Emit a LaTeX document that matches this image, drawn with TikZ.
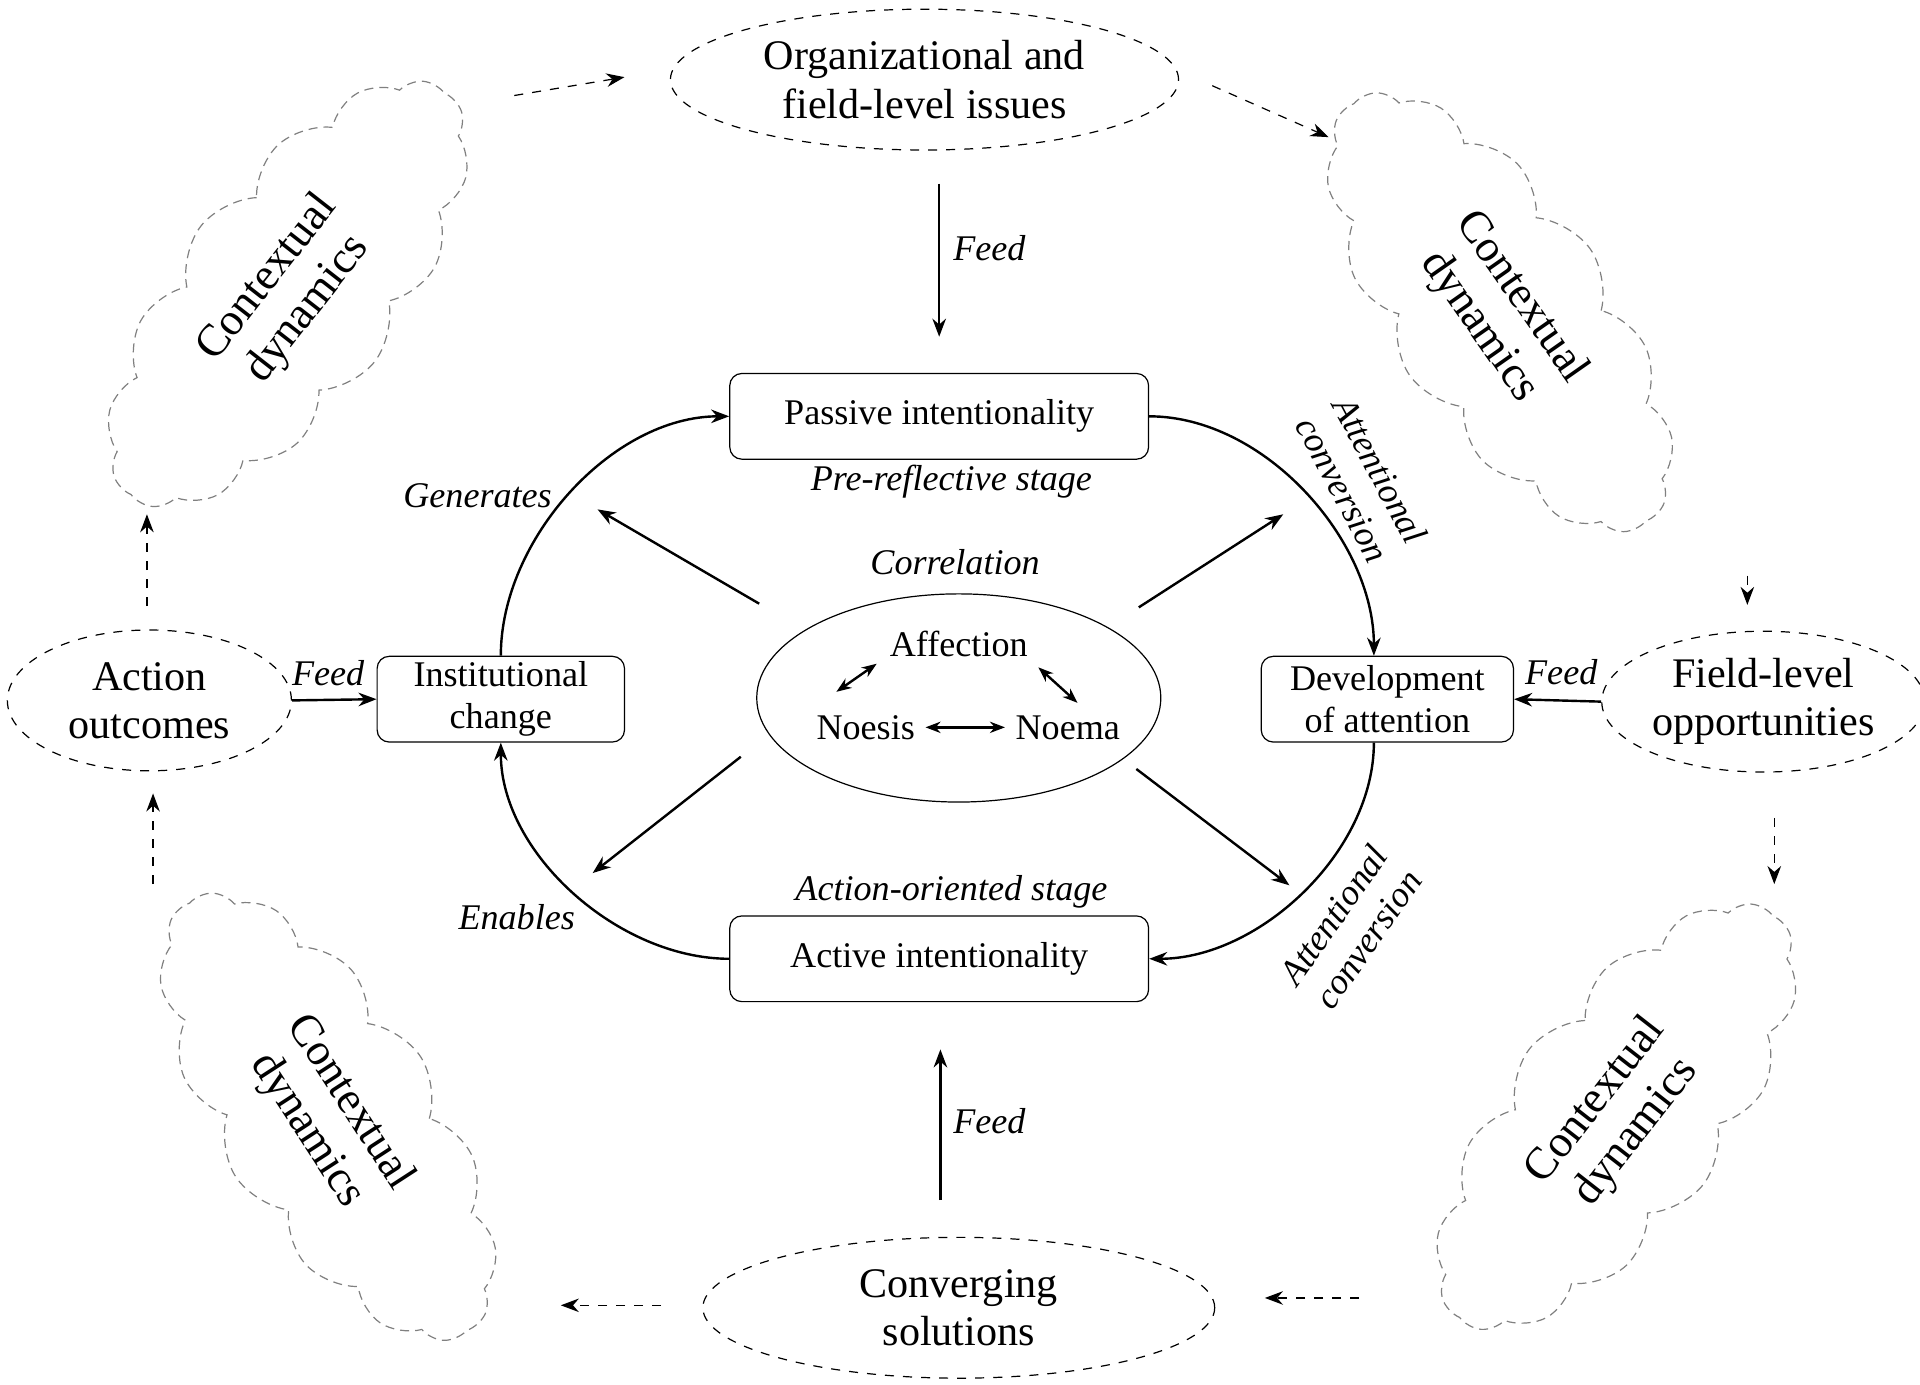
\documentclass[tikz,border=0pt]{standalone}
\usepackage{fontspec}
\setmainfont{Liberation Serif}
\usetikzlibrary{shapes.geometric, shapes.symbols, arrows.meta}

\def\u{0.0143cm}
\tikzset{
  size/.style 2 args = {minimum width=#1*\u, minimum height=#2*\u, inner sep=1pt},
  outer/.style = {draw, dashed, ellipse, align=center, font=\fontsize{14}{16}\selectfont},
  box/.style   = {draw, rounded corners=4pt, align=center, font=\fontsize{12}{14}\selectfont},
  puff/.style  = {draw=gray, densely dashed, thin, cloud, cloud puffs=14, cloud puff arc=100,
                  aspect=2.3, size={420}{180}, align=center,
                  font=\fontsize{15}{17}\selectfont},
  lab/.style   = {font=\itshape\fontsize{12}{14}\selectfont, align=center},
  arr/.style   = {-{Stealth[length=6pt]}, thick},
  darr/.style  = {-{Stealth[length=6pt]}, dashed},
}

\begin{document}
\begin{tikzpicture}[x=\u, y=-\u]
  \useasboundingbox (0,0) rectangle (1568,1131);

  % outer issues
  \node [outer, size={415}{115}] (issues) at (755,65) {Organizational and\\field-level issues};
  \node [outer, size={232}{115}] (outcomes) at (122,572) {Action\\outcomes};
  \node [outer, size={245}{115}] (opport) at (1440,573) {Field-level\\opportunities};
  \node [outer, size={418}{115}] (solutions) at (783,1068) {Converging\\solutions};

  % clouds
  \node [puff, rotate=52]  (ctl) at (235,240) {Contextual\\dynamics};
  \node [puff, rotate=-55] (ctr) at (1225,255) {Contextual\\dynamics};
  \node [puff, rotate=-57] (cbl) at (268,912) {Contextual\\dynamics};
  \node [puff, rotate=52]  (cbr) at (1320,912) {Contextual\\dynamics};

  % stages
  \node [box, size={342}{70}] (passive) at (767,340) {Passive intentionality};
  \node [box, size={342}{70}] (active) at (767,783) {Active intentionality};
  \node [box, size={202}{70}] (inst) at (409,571) {Institutional\\change};
  \node [box, size={206}{70}] (devel) at (1133,571) {Development\\of attention};

  % correlation
  \node [draw, ellipse, size={330}{170}] (corr) at (783,570) {};
  \node [font=\fontsize{12}{14}\selectfont] (affect) at (783,526) {Affection};
  \node [font=\fontsize{12}{14}\selectfont] (noesis) at (707,594) {Noesis};
  \node [font=\fontsize{12}{14}\selectfont] (noema) at (872,594) {Noema};
  \draw [{Stealth[length=5pt]}-{Stealth[length=5pt]}, thick] (noesis) -- (noema);
  \draw [{Stealth[length=5pt]}-{Stealth[length=5pt]}, thick] (683,565) -- (716,542);
  \draw [{Stealth[length=5pt]}-{Stealth[length=5pt]}, thick] (848,545) -- (880,574);
  \node [lab] (corrlab) at (780,459) {Correlation};
  \node [lab] (prelab) at (777,393) {Pre-reflective stage};
  \node [lab] (actlab) at (777,728) {Action-oriented stage};

  % feeds
  \coordinate (f1) at (767,150);
  \coordinate (f2) at (768,980);
  \draw [arr] (f1) -- (767,275);
  \draw [arr] (f2) -- (768,857);
  \draw [arr] (outcomes.east) -- (inst.west);
  \draw [arr] (opport.west) -- (devel.east);
  \node [lab] at (808,203) {Feed};
  \node [lab] at (808,916) {Feed};
  \node [lab] at (268,550) {Feed};
  \node [lab] at (1275,549) {Feed};

  % cycle
  \draw [arr] (passive.east) to [out=0, in=90, looseness=0.9] (devel.north -| 1122,0);
  \draw [arr] (devel.south -| 1122,0) to [out=-90, in=0, looseness=0.9] (active.east);
  \draw [arr] (active.west) to [out=180, in=-90, looseness=0.9] (inst.south);
  \draw [arr] (inst.north) to [out=90, in=180, looseness=0.9] (passive.west);
  \node [lab, rotate=-62] at (1112,392) {Attentional\\conversion};
  \node [lab, rotate=55] at (1103,757) {Attentional\\conversion};
  \node [lab] at (422,749) {Enables};
  \node [lab] at (390,405) {Generates};

  % correlation outputs
  \draw [arr] (620,493) -- (488,416);
  \draw [arr] (930,496) -- (1048,420);
  \draw [arr] (605,618) -- (484,713);
  \draw [arr] (928,628) -- (1053,723);

  % dashed flow
  \draw [darr] (420,78) -- (510,63);
  \draw [darr] (990,70) -- (1085,112);
  \draw [darr] (1427,470) -- (1427,494);
  \draw [darr] (1449,668) -- (1449,722);
  \draw [darr] (1110,1060) -- (1033,1060);
  \draw [darr] (540,1066) -- (458,1066);
  \draw [darr] (125,722) -- (125,648);
  \draw [darr] (120,495) -- (120,420);
\end{tikzpicture}
\end{document}
